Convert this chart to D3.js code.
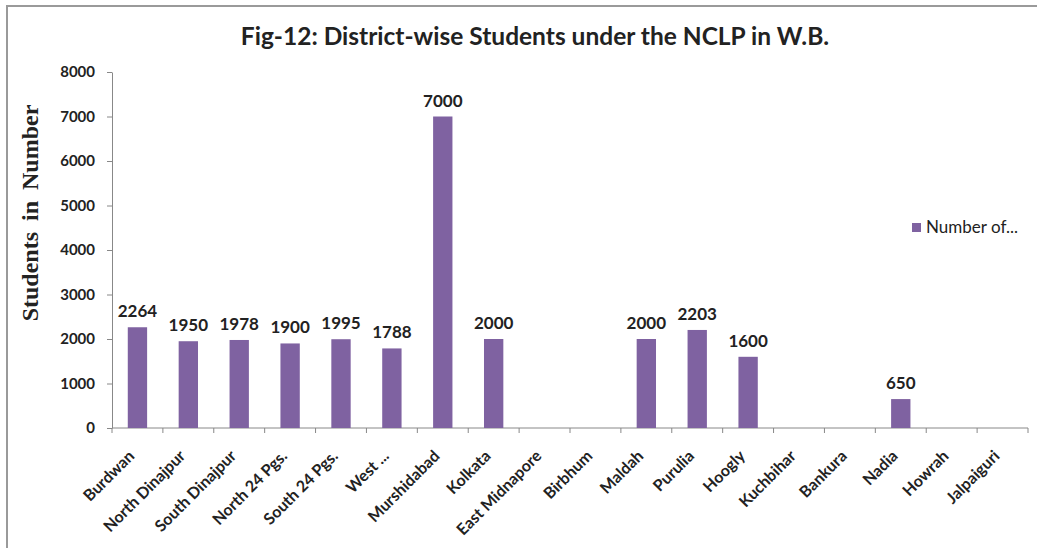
<!DOCTYPE html>
<html lang="en">
<head>
<meta charset="UTF-8">
<script src="https://d3js.org/d3.v7.min.js"></script>
<title>Fig-12</title>
<style>
    body { margin: 0; background: #fff; }
    text { font-family: Lato, "Open Sans", "DejaVu Sans", sans-serif; }
</style>
</head>
<body>
<div id="chart"></div>
<script>
    // data
    var districts = ["Burdwan", "North Dinajpur", "South Dinajpur", "North 24 Pgs.", "South 24 Pgs.",
        "West ...", "Murshidabad", "Kolkata", "East Midnapore", "Birbhum", "Maldah", "Purulia",
        "Hoogly", "Kuchbihar", "Bankura", "Nadia", "Howrah", "Jalpaiguri"];
    var students = [2264, 1950, 1978, 1900, 1995, 1788, 7000, 2000, null, null, 2000, 2203,
        1600, null, null, 650, null, null];
    var yTicks = [0, 1000, 2000, 3000, 4000, 5000, 6000, 7000, 8000];

    var width = 1037, height = 548;
    var plotLeft = 112, plotRight = 1028, plotTop = 72, plotBottom = 428;

    var svg = d3.select("#chart").append("svg")
        .attr("width", width)
        .attr("height", height);

    // frame (only top and left edges visible in the scan)
    svg.append("line").attr("x1", 6).attr("x2", width).attr("y1", 6).attr("y2", 6)
        .attr("stroke", "#9a9a9a").attr("stroke-width", 2);
    svg.append("line").attr("x1", 7).attr("x2", 7).attr("y1", 6).attr("y2", height)
        .attr("stroke", "#9a9a9a").attr("stroke-width", 2);

    var x = d3.scaleBand()
        .domain(districts)
        .range([plotLeft, plotRight])
        .paddingInner(0.62)
        .paddingOuter(0.31);

    var y = d3.scaleLinear()
        .domain([0, 8000])
        .range([plotBottom, plotTop]);

    // y axis
    var yAxis = svg.append("g")
        .attr("transform", "translate(" + plotLeft + ",0)")
        .call(d3.axisLeft(y).tickValues(yTicks).tickFormat(d3.format("d")).tickSize(5).tickSizeOuter(0));
    yAxis.select(".domain").attr("stroke", "#888");
    yAxis.selectAll(".tick line").attr("stroke", "#888");
    yAxis.selectAll("text")
        .attr("font-size", "15px")
        .attr("font-weight", "bold")
        .attr("fill", "#222")
        .attr("x", -17)
        .attr("font-family", "Lato, 'Open Sans', sans-serif");

    // x axis with ticks on category boundaries
    var xAxis = svg.append("g")
        .attr("transform", "translate(0," + plotBottom + ")");
    xAxis.append("line")
        .attr("x1", plotLeft).attr("x2", plotRight)
        .attr("stroke", "#888");
    var bounds = d3.range(districts.length + 1).map(function (i) {
        return plotLeft + i * (plotRight - plotLeft) / districts.length;
    });
    xAxis.selectAll(".tk")
        .data(bounds)
        .join("line")
        .attr("class", "tk")
        .attr("x1", function (d) { return d; })
        .attr("x2", function (d) { return d; })
        .attr("y1", 0).attr("y2", 5)
        .attr("stroke", "#888");

    xAxis.selectAll(".lbl")
        .data(districts)
        .join("text")
        .attr("class", "lbl")
        .attr("transform", function (d) {
            return "translate(" + (x(d) + x.bandwidth() / 2 - 2) + ",29) rotate(-45)";
        })
        .attr("text-anchor", "end")
        .attr("font-size", "16px")
        .attr("font-weight", "bold")
        .attr("fill", "#222")
        .text(function (d) { return d; });

    // bars
    var rows = districts.map(function (d, i) { return { name: d, value: students[i] }; })
        .filter(function (d) { return d.value != null; });

    svg.selectAll(".bar")
        .data(rows)
        .join("rect")
        .attr("class", "bar")
        .attr("x", function (d) { return x(d.name); })
        .attr("width", x.bandwidth())
        .attr("y", function (d) { return y(d.value); })
        .attr("height", function (d) { return plotBottom - y(d.value); })
        .attr("fill", "#7f62a1");

    svg.selectAll(".val")
        .data(rows)
        .join("text")
        .attr("class", "val")
        .attr("x", function (d) { return x(d.name) + x.bandwidth() / 2; })
        .attr("y", function (d) { return y(d.value) - 10; })
        .attr("text-anchor", "middle")
        .attr("font-size", "17px")
        .attr("font-weight", "bold")
        .attr("fill", "#222")
        .text(function (d) { return d.value; });

    // title
    svg.append("text")
        .attr("x", 535)
        .attr("y", 45)
        .attr("text-anchor", "middle")
        .attr("font-size", "24.5px")
        .attr("font-weight", "bold")
        .attr("fill", "#222")
        .text("Fig-12: District-wise Students under the NCLP in W.B.");

    // y title
    svg.append("text")
        .attr("transform", "translate(38,213) rotate(-90)")
        .attr("text-anchor", "middle")
        .attr("font-size", "24px")
        .attr("font-weight", "bold")
        .attr("fill", "#222")
        .style("font-family", "'Liberation Serif', 'DejaVu Serif', serif")
        .style("word-spacing", "5px")
        .text("Students in Number");

    // legend
    var legend = svg.append("g").attr("transform", "translate(912,223)");
    legend.append("rect").attr("width", 9).attr("height", 9).attr("fill", "#7f62a1");
    legend.append("text")
        .attr("x", 14).attr("y", 10)
        .attr("font-size", "17px")
        .attr("fill", "#222")
        .text("Number of...");
</script>
</body>
</html>
